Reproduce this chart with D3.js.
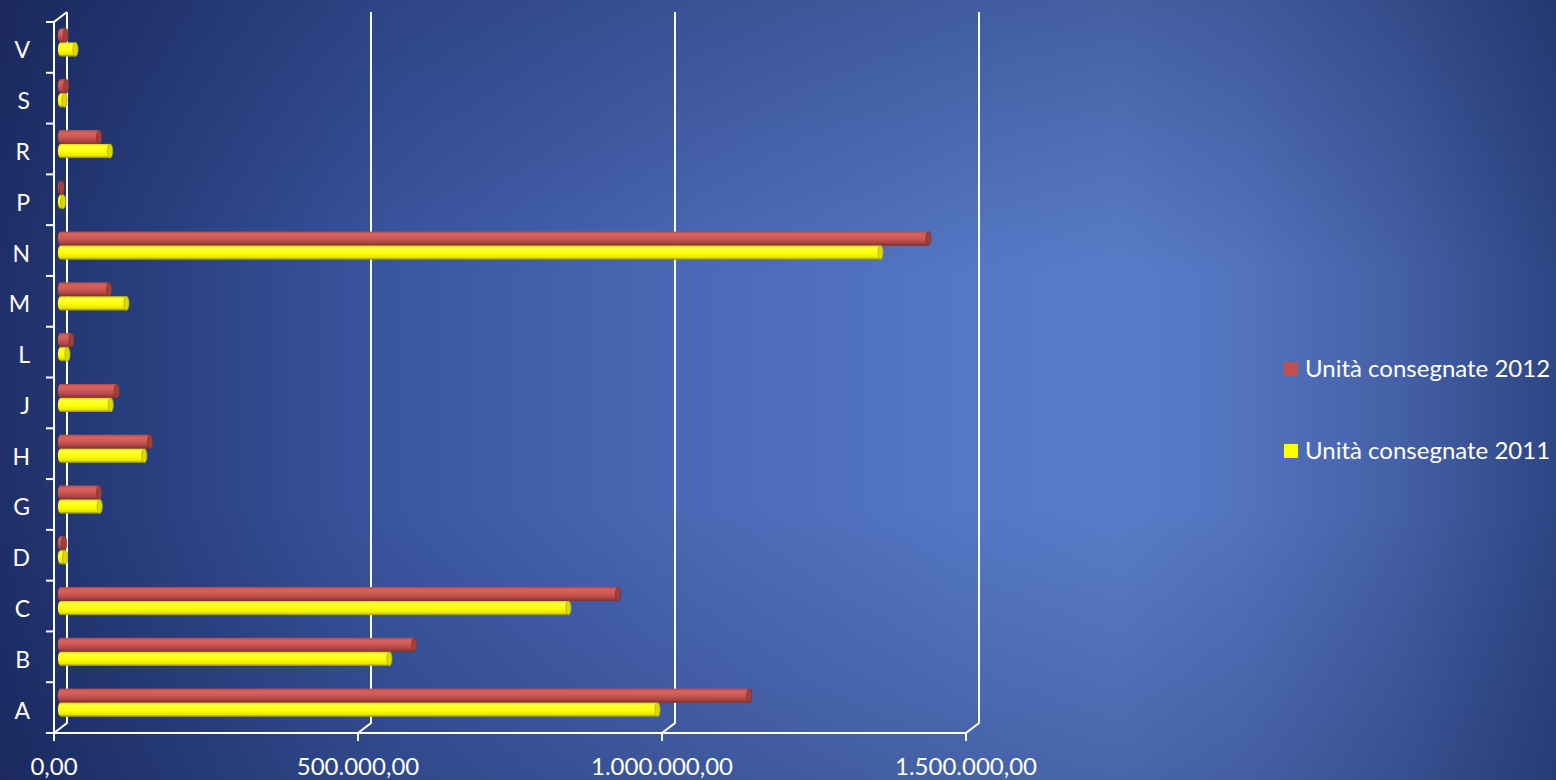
<!DOCTYPE html>
<html>
<head>
<meta charset="utf-8">
<script src="https://cdn.jsdelivr.net/npm/d3@7"></script>
<style>
  html, body { margin: 0; padding: 0; background: #2a3f80; }
  svg { display: block; }
  text { font-family: Lato, "Open Sans", sans-serif; fill: #ffffff; }
</style>
</head>
<body>
<svg id="chart" width="1556" height="780"></svg>
<script>
// Categories, bottom to top
const categories = ["A", "B", "C", "D", "G", "H", "J", "L", "M", "N", "P", "R", "S", "V"];

// Delivered units per category
const units2012 = [1133000, 582000, 917000, 6000, 63600, 147500, 92600, 18000, 80000, 1427600, 2100, 63600, 9400, 8700];
const units2011 = [982000, 541000, 835500, 7700, 64600, 138000, 82700, 11500, 108500, 1348700, 4400, 81700, 6600, 24700];

const seriesNames = ["Unità consegnate 2012", "Unità consegnate 2011"];
const seriesKeys = ["s2012", "s2011"];

const xTicks = [0, 500000, 1000000, 1500000];
const xTickLabels = ["0,00", "500.000,00", "1.000.000,00", "1.500.000,00"];

const W = 1556, H = 780;
const svg = d3.select("#chart");

// ---- background ----
const defs = svg.append("defs");
const bg = defs.append("linearGradient").attr("id", "bgH").attr("x1", 0).attr("x2", 1).attr("y1", 0).attr("y2", 0);
[[0, "#1f2f68"], [0.05, "#243874"], [0.25, "#3a56a0"], [0.45, "#4b69b6"], [0.62, "#5577c4"],
 [0.72, "#5a7cc8"], [0.8, "#5373bf"], [0.9, "#4460a6"], [1, "#2d4684"]]
  .forEach(([o, c]) => bg.append("stop").attr("offset", o).attr("stop-color", c));
const bgV = defs.append("linearGradient").attr("id", "bgV").attr("x1", 0).attr("x2", 0).attr("y1", 0).attr("y2", 1);
[[0, 0.28], [0.35, 0], [0.65, 0], [1, 0.22]]
  .forEach(([o, a]) => bgV.append("stop").attr("offset", o).attr("stop-color", "#0c1640").attr("stop-opacity", a));
svg.append("rect").attr("width", W).attr("height", H).attr("fill", "url(#bgH)");
svg.append("rect").attr("width", W).attr("height", H).attr("fill", "url(#bgV)");

// cylinder shading
function cylGrad(id, stops) {
  const g = defs.append("linearGradient").attr("id", id).attr("x1", 0).attr("x2", 0).attr("y1", 0).attr("y2", 1);
  stops.forEach(([o, c]) => g.append("stop").attr("offset", o).attr("stop-color", c));
}
cylGrad("cyl-s2012", [[0, "#b54e4a"], [0.2, "#d8625e"], [0.45, "#cf5a56"], [0.8, "#aa4542"], [1, "#7c2d2b"]]);
cylGrad("cyl-s2011", [[0, "#d9d900"], [0.18, "#ffff3a"], [0.55, "#ffff00"], [0.85, "#e6e600"], [1, "#8c8c00"]]);
const capFill = { s2012: "#a0403d", s2011: "#dcd800" };
const capStroke = { s2012: "#802c2a", s2011: "#a8a400" };
const bodyStroke = { s2012: "#8e3634", s2011: "#a3a100" };
const legendFill = { s2012: "#c0504d", s2011: "#ffff00" };

// ---- scales ----
const depth = { dx: 13, dy: -10 };
const x = d3.scaleLinear().domain([0, 1500000]).range([54, 966]);
const y = d3.scaleBand().domain(categories).range([733, 22]).paddingInner(0).paddingOuter(0);
const ySeries = d3.scaleBand().domain(seriesKeys).range([-14, 14]);

const rows = categories.map((c, i) => ({ cat: c, s2012: units2012[i], s2011: units2011[i] }));

const lineStyle = g => g.attr("fill", "none").attr("stroke", "#ffffff").attr("stroke-width", 2);

// ---- walls: back gridlines and floor ----
const grid = svg.append("g");
xTicks.forEach(v => {
  const xf = x(v), xb = x(v) + depth.dx;
  const ytop = 22 + depth.dy, ybot = 733 + depth.dy;
  const p = d3.path();
  p.moveTo(xb, ytop); p.lineTo(xb, ybot); p.lineTo(xf, 733);
  if (v > 0) p.lineTo(xf, 741);
  grid.append("path").attr("d", p.toString()).call(lineStyle);
});
// front left edge with top slant
{
  const p = d3.path();
  p.moveTo(x(0) + depth.dx, 22 + depth.dy); p.lineTo(x(0), 22); p.lineTo(x(0), 741);
  grid.append("path").attr("d", p.toString()).call(lineStyle);
}
// floor front edge
grid.append("line").attr("x1", x(0) - 8).attr("x2", x(1500000)).attr("y1", 733).attr("y2", 733).call(lineStyle);
// category tick marks
const tickYs = categories.map(c => y(c)).concat([733]);
tickYs.forEach(ty => {
  grid.append("line").attr("x1", x(0) - 8).attr("x2", x(0)).attr("y1", ty).attr("y2", ty).call(lineStyle);
});

// ---- cylinders ----
const bars = svg.append("g");
const mid = { dx: depth.dx / 2, dy: depth.dy / 2 };
const capRx = 2.6;
rows.forEach(r => {
  seriesKeys.forEach(k => {
    const yc = y(r.cat) + y.bandwidth() / 2 + mid.dy;
    const y0 = yc + ySeries(k), h = ySeries.bandwidth();
    const xa = x(0) + mid.dx, xe = x(r[k]) + mid.dx;
    const g = bars.append("g");
    // rounded base end
    g.append("ellipse").attr("cx", xa).attr("cy", y0 + h / 2).attr("rx", capRx).attr("ry", h / 2)
      .attr("fill", `url(#cyl-${k})`);
    // body
    g.append("rect").attr("x", xa).attr("y", y0).attr("width", Math.max(0, xe - xa)).attr("height", h)
      .attr("fill", `url(#cyl-${k})`);
    g.append("line").attr("x1", xa).attr("x2", xe).attr("y1", y0 + h - 0.4).attr("y2", y0 + h - 0.4)
      .attr("stroke", bodyStroke[k]).attr("stroke-width", 0.8);
    // end cap
    g.append("ellipse").attr("cx", xe).attr("cy", y0 + h / 2).attr("rx", capRx).attr("ry", h / 2)
      .attr("fill", capFill[k]).attr("stroke", capStroke[k]).attr("stroke-width", 0.7);
  });
});

// ---- axis labels ----
svg.append("g").selectAll("text").data(categories).join("text")
  .attr("x", 30).attr("y", d => y(d) + y.bandwidth() / 2 + 2)
  .attr("text-anchor", "end").attr("dominant-baseline", "central")
  .attr("font-size", 23).text(d => d);

svg.append("g").selectAll("text").data(xTicks).join("text")
  .attr("x", d => x(d)).attr("y", 775)
  .attr("text-anchor", "middle").attr("font-size", 24)
  .text((d, i) => xTickLabels[i]);

// ---- legend ----
const legend = svg.append("g");
const legendY = [369, 451];
seriesKeys.forEach((k, i) => {
  legend.append("rect").attr("x", 1284).attr("y", legendY[i] - 7).attr("width", 14).attr("height", 14)
    .attr("fill", legendFill[k]);
  legend.append("text").attr("x", 1305).attr("y", legendY[i] + 7.5)
    .attr("font-size", 24).text(seriesNames[i]);
});
</script>
</body>
</html>
